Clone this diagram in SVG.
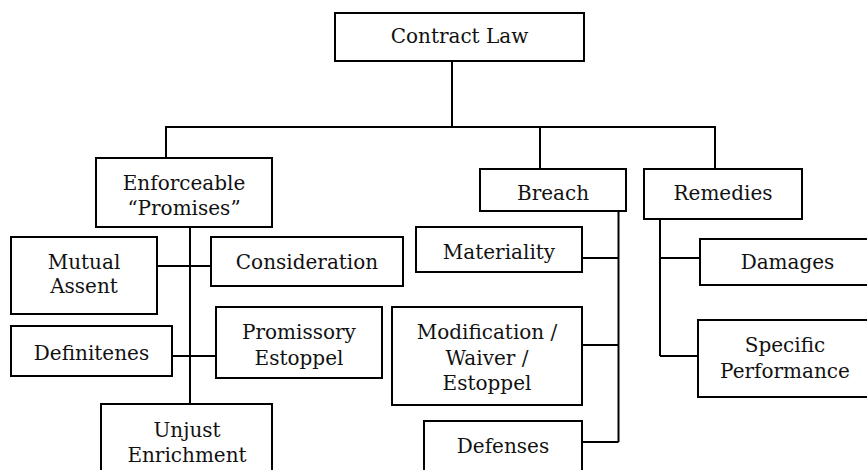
<svg xmlns="http://www.w3.org/2000/svg" width="867" height="470" viewBox="0 0 867 470">
  <style>
    .box { fill: #fff; stroke: #000; stroke-width: 2; }
    .lbl { font-family: "DejaVu Serif", "Liberation Serif", serif; font-size: 20px; fill: #111; text-anchor: middle; }
    .conn { fill: none; stroke: #000; stroke-width: 2; }
  </style>
  <rect width="867" height="470" fill="#fff"/>
  <g id="connectors" class="conn">
    <path d="M452,61 V127"/>
    <path d="M166,158 V127 H715 V169"/>
    <path d="M540,127 V169"/>
    <path d="M190,227 V404"/>
    <path d="M157,266 H211"/>
    <path d="M172,356 H216"/>
    <path d="M618.5,211 V442"/>
    <path d="M582,258 H618.5"/>
    <path d="M582,345 H618.5"/>
    <path d="M582,442 H618.5"/>
    <path d="M660,219 V356"/>
    <path d="M660,258 H700"/>
    <path d="M660,356 H698"/>
  </g>
  <g id="contract-law">
    <rect class="box" x="335" y="13" width="249" height="48"/>
    <text class="lbl" x="459.5" y="43">Contract Law</text>
  </g>
  <g id="enforceable">
    <rect class="box" x="96" y="158" width="176" height="69"/>
    <text class="lbl" x="184" y="190">Enforceable</text>
    <text class="lbl" x="184" y="215">“Promises”</text>
  </g>
  <g id="breach">
    <rect class="box" x="480" y="169" width="146" height="42"/>
    <text class="lbl" x="553" y="200">Breach</text>
  </g>
  <g id="remedies">
    <rect class="box" x="644" y="169" width="158" height="50"/>
    <text class="lbl" x="723" y="200">Remedies</text>
  </g>
  <g id="mutual-assent">
    <rect class="box" x="11" y="237" width="146" height="77"/>
    <text class="lbl" x="84" y="269">Mutual</text>
    <text class="lbl" x="84" y="293">Assent</text>
  </g>
  <g id="consideration">
    <rect class="box" x="211" y="237" width="192" height="49"/>
    <text class="lbl" x="307" y="269">Consideration</text>
  </g>
  <g id="definiteness">
    <rect class="box" x="11" y="326" width="161" height="50"/>
    <text class="lbl" x="91.5" y="360">Definitenes</text>
  </g>
  <g id="promissory-estoppel">
    <rect class="box" x="216" y="307" width="166" height="71"/>
    <text class="lbl" x="299" y="339">Promissory</text>
    <text class="lbl" x="299" y="365">Estoppel</text>
  </g>
  <g id="unjust-enrichment">
    <rect class="box" x="101" y="404" width="171" height="80"/>
    <text class="lbl" x="187" y="437">Unjust</text>
    <text class="lbl" x="187" y="462">Enrichment</text>
  </g>
  <g id="materiality">
    <rect class="box" x="416" y="227" width="166" height="45"/>
    <text class="lbl" x="499" y="259">Materiality</text>
  </g>
  <g id="modification">
    <rect class="box" x="392" y="307" width="190" height="98"/>
    <text class="lbl" x="487" y="339">Modification /</text>
    <text class="lbl" x="487" y="365">Waiver /</text>
    <text class="lbl" x="487" y="390">Estoppel</text>
  </g>
  <g id="defenses">
    <rect class="box" x="424" y="421" width="158" height="60"/>
    <text class="lbl" x="503" y="453">Defenses</text>
  </g>
  <g id="damages">
    <rect class="box" x="700" y="239" width="175" height="46"/>
    <text class="lbl" x="787.5" y="269">Damages</text>
  </g>
  <g id="specific-performance">
    <rect class="box" x="698" y="320" width="175" height="77"/>
    <text class="lbl" x="785" y="352">Specific</text>
    <text class="lbl" x="785" y="378">Performance</text>
  </g>
</svg>
